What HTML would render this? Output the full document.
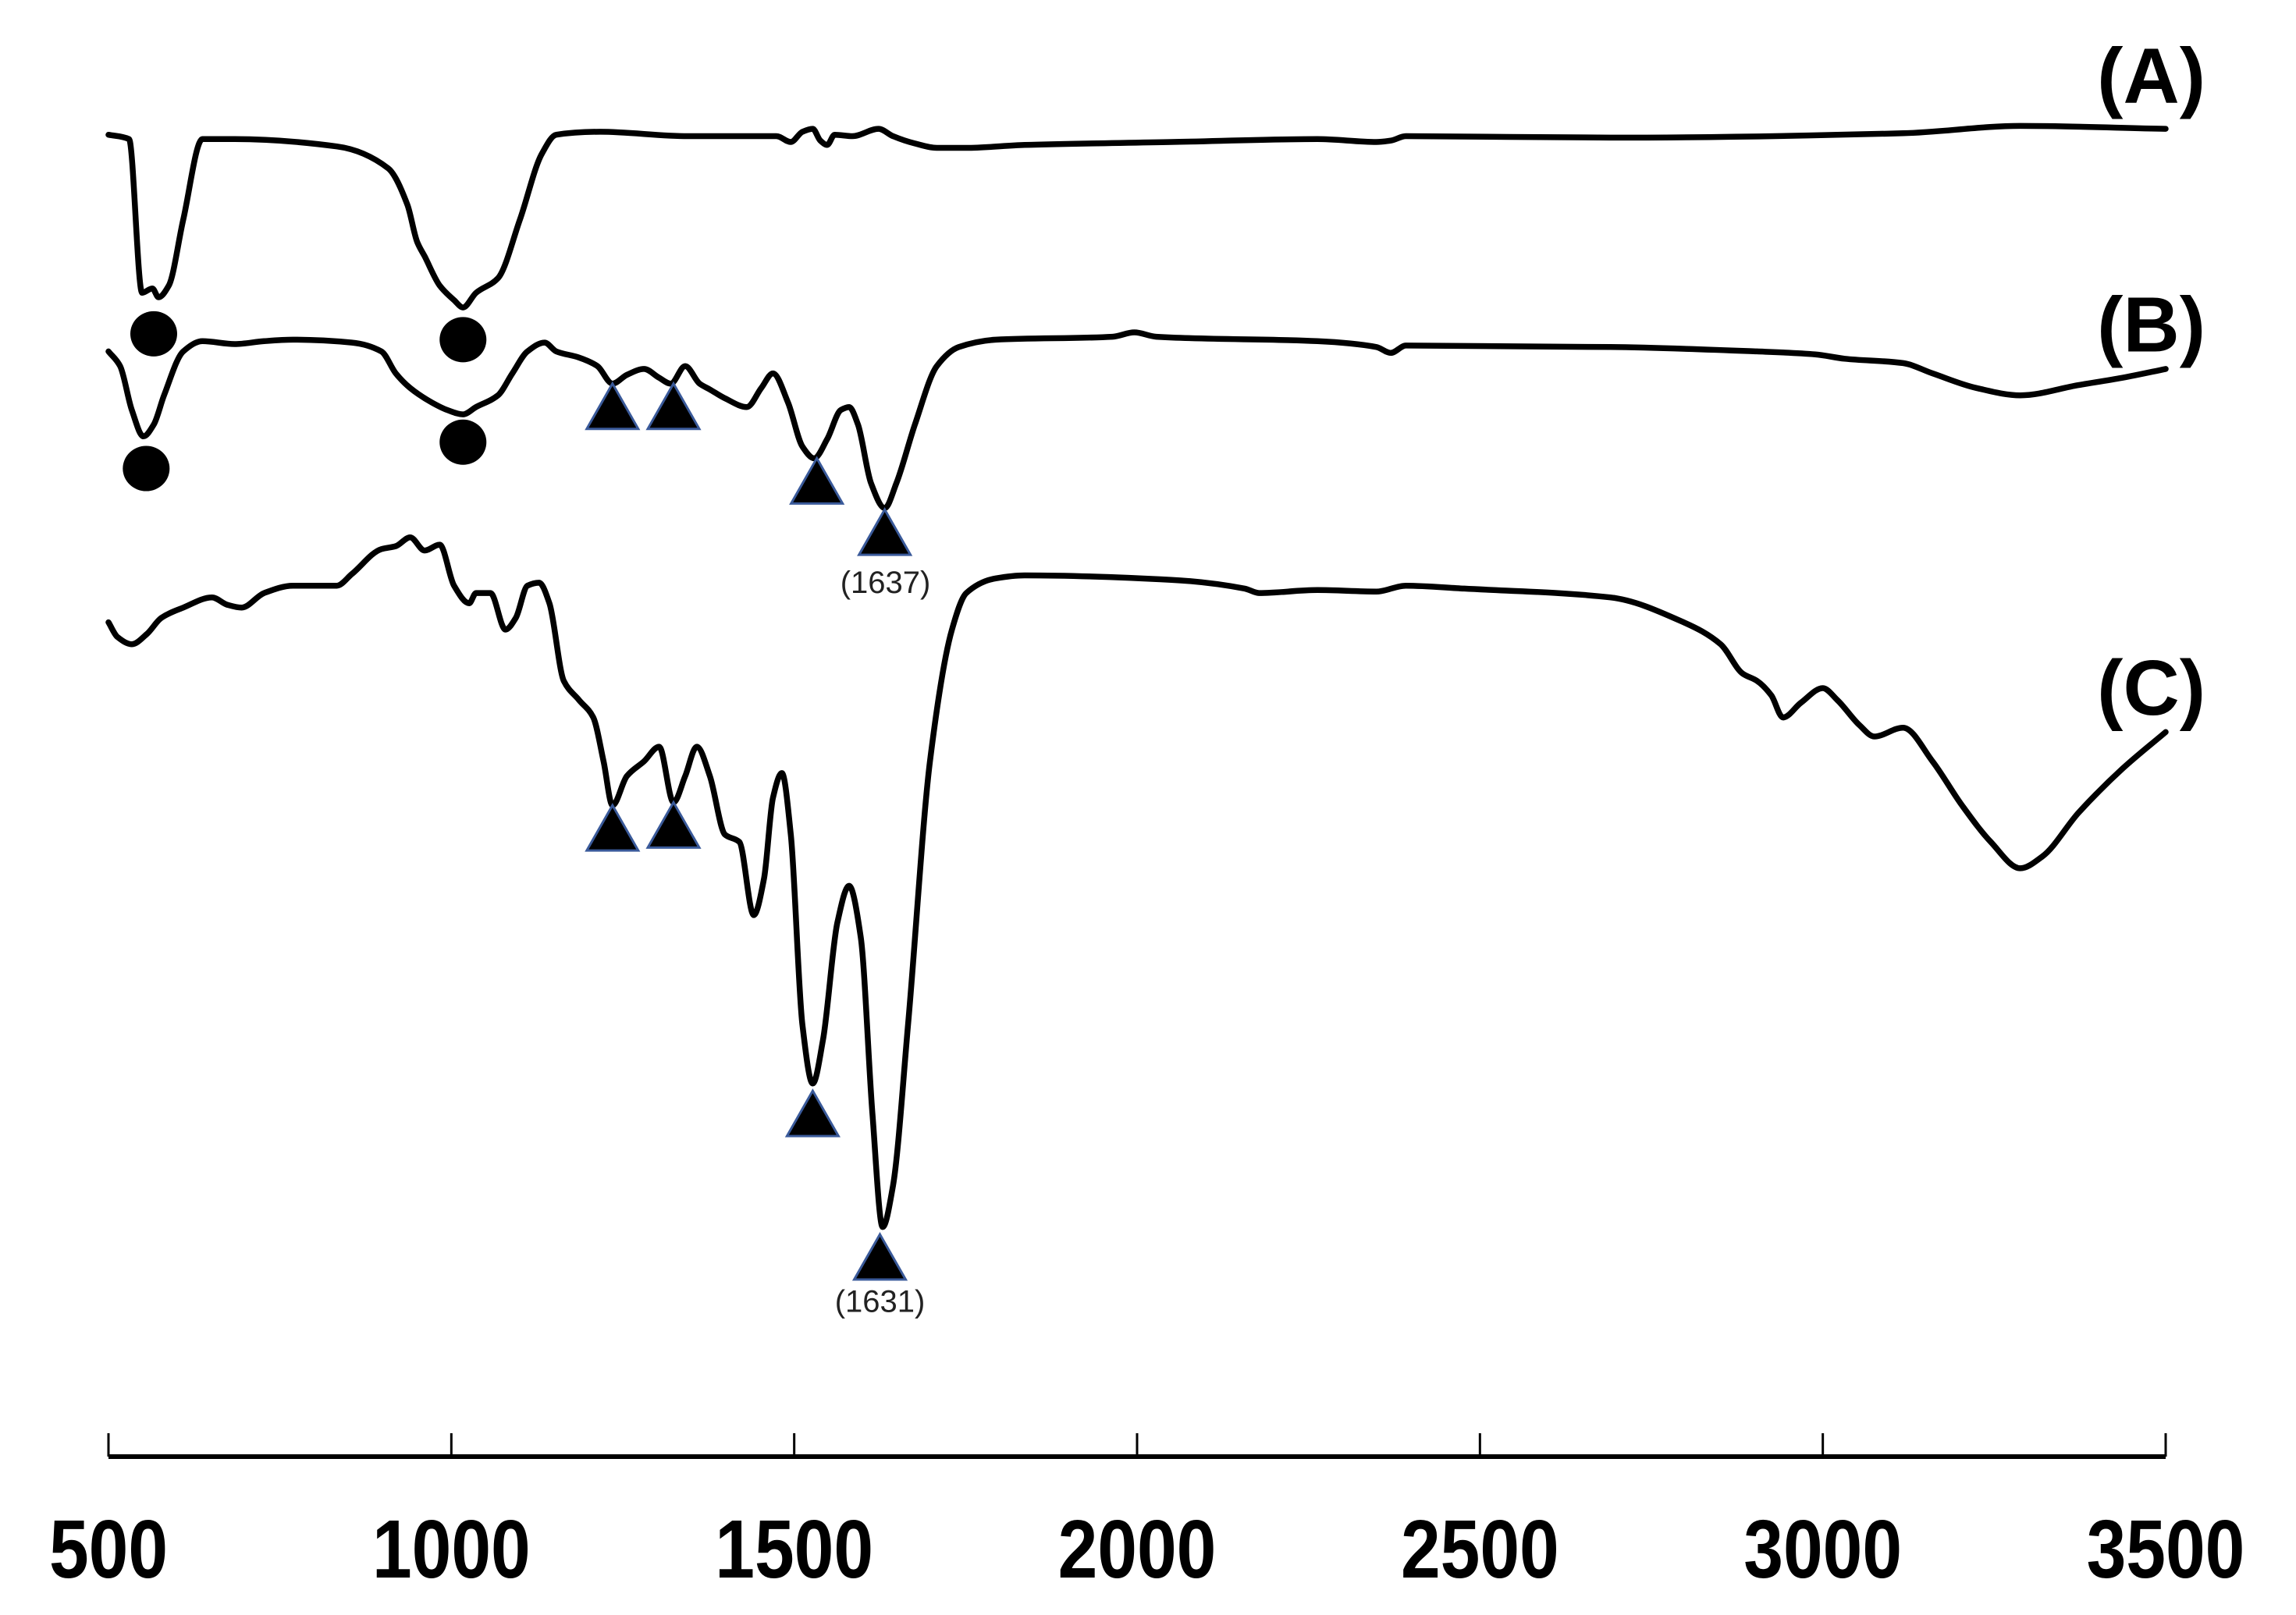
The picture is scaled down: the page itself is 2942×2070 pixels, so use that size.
<!DOCTYPE html>
<html><head><meta charset="utf-8"><style>
html,body{margin:0;padding:0;background:#fff;}
svg{display:block;}
text{font-family:"Liberation Sans",Arial,sans-serif;}
</style></head><body>
<svg id="chart" width="2942" height="2070" viewBox="0 0 2942 2070" xmlns="http://www.w3.org/2000/svg">
<g id="series"></g><g id="markers"></g><g id="axis"></g><g id="labels"></g>
</svg>
<script>
// Wavenumber (cm-1) and vertical offset (arbitrary, larger = lower on plot)
const wnA = [500,530,549,564,573,588,609,637,684,833,908,936,950,961,983,1004,1017,1036,1068,1100,1132,1153,1217,1345,1474,1495,1512,1527,1538,1548,1559,1585,1623,1644,1676,1708,1751,1836,2050,2263,2349,2370,2392,2690,3117,3288,3500];
const valA = [92,95,200,197,203,195,150,95,95,100,115,140,165,175,195,205,210,200,190,150,105,92,90,93,93,97,90,88,96,99,92,93,88,93,98,101,101,99,97,95,97,96,93,94,91,86,88];
const wnB = [500,517,534,551,566,581,609,637,684,727,769,855,898,919,940,972,994,1017,1036,1068,1089,1111,1136,1153,1185,1213,1235,1256,1281,1303,1320,1341,1362,1377,1399,1431,1452,1469,1491,1512,1529,1548,1568,1580,1593,1612,1632,1649,1676,1708,1740,1794,1964,1996,2028,2263,2349,2370,2392,2690,2904,2989,3032,3117,3160,3224,3288,3373,3437,3500];
const valB = [240,250,280,298,290,270,240,233,235,233,232,234,240,255,265,275,280,283,278,270,255,240,234,240,244,250,262,256,252,258,262,250,262,266,272,278,265,255,275,305,313,300,280,278,290,330,347,330,290,250,237,232,230,227,230,233,237,241,236,237,240,242,245,248,255,265,270,263,258,252];
const wnC = [500,513,534,556,577,609,651,673,694,727,769,833,855,898,919,940,961,983,1004,1026,1036,1057,1079,1094,1111,1128,1143,1164,1186,1207,1222,1235,1256,1281,1303,1324,1341,1358,1377,1399,1420,1441,1456,1469,1482,1495,1512,1527,1542,1563,1580,1597,1614,1629,1644,1666,1698,1730,1751,1794,1836,2050,2157,2178,2263,2349,2392,2477,2690,2797,2851,2883,2904,2925,2942,2968,3000,3021,3053,3075,3117,3160,3203,3245,3288,3320,3373,3437,3500];
const valC = [425,435,440,433,422,415,408,413,415,405,400,400,392,375,373,367,376,372,400,412,405,405,430,422,400,398,412,465,478,490,520,550,530,520,510,548,530,510,530,570,575,625,600,545,528,570,700,740,710,630,605,640,760,838,810,700,520,430,405,395,393,396,402,405,403,404,400,402,408,425,440,460,465,475,490,480,470,478,495,503,497,520,550,575,593,585,555,525,500];
const circleWn = [566,1017,555,1017];
const circleVal = [228,232,320,302];
const triWn = [1235,1324,1533,1632,1235,1324,1527,1625];
const triTop = [262,262,313,348,550,548,745,843];
const peakLabels = ["(1637)","(1631)"];
const peakLabelWn = [1633,1625];
const peakLabelVal = [405,896];
const ticks = [500,1000,1500,2000,2500,3000,3500];
const panelNames = ["(A)","(B)","(C)"];
const panelVal = [70,240,488];

const S = 2070/1103;
const X0 = 139, X1 = 2775;
function xs(wn){ return X0 + (wn-500)/3000*(X1-X0); }
function ys(v){ return v*S; }
const NS = "http://www.w3.org/2000/svg";
function mk(tag, attrs, parent){ const e=document.createElementNS(NS,tag); for(const k in attrs) e.setAttribute(k,attrs[k]); parent.appendChild(e); return e; }

// monotone cubic in x (no overshoot)
function pathFor(wn, val){
  const x = wn.map(xs), y = val.map(ys), n = x.length;
  const d = [], m = new Array(n);
  for(let i=0;i<n-1;i++) d.push((y[i+1]-y[i])/(x[i+1]-x[i]));
  m[0]=d[0]; m[n-1]=d[n-2];
  for(let i=1;i<n-1;i++){
    if(d[i-1]*d[i]<=0) m[i]=0;
    else { const h0=x[i]-x[i-1], h1=x[i+1]-x[i];
      const w1=2*h1+h0, w2=h1+2*h0;
      m[i]=(w1+w2)/(w1/d[i-1]+w2/d[i]); }
  }
  let p = "M"+x[0].toFixed(1)+","+y[0].toFixed(1);
  for(let i=0;i<n-1;i++){
    const h=(x[i+1]-x[i])/3;
    p += " C"+(x[i]+h).toFixed(1)+","+(y[i]+m[i]*h).toFixed(1)+" "+(x[i+1]-h).toFixed(1)+","+(y[i+1]-m[i+1]*h).toFixed(1)+" "+x[i+1].toFixed(1)+","+y[i+1].toFixed(1);
  }
  return p;
}
const gS = document.getElementById('series');
const series = [[wnA,valA,'spectrum-a'],[wnB,valB,'spectrum-b'],[wnC,valC,'spectrum-c']];
series.forEach(s=>{
  const el = mk('path',{d:pathFor(s[0],s[1]),fill:'none',stroke:'#000','stroke-width':7.5,'stroke-linejoin':'round','stroke-linecap':'round'},gS);
  
  
});

const gM = document.getElementById('markers');
circleWn.forEach((w,i)=>{
  const el = mk('ellipse',{cx:xs(w),cy:ys(circleVal[i]),rx:30,ry:29,fill:'#000'},gM);
  
  
});
triWn.forEach((w,i)=>{
  const cx = xs(w), top = ys(triTop[i]), h = 58, hw = 33;
  const el = mk('polygon',{points:`${cx},${top} ${cx+hw},${top+h} ${cx-hw},${top+h}`,fill:'#000',stroke:'#3a5a9a','stroke-width':3},gM);
  
  
});
peakLabels.forEach((t,i)=>{
  const el = mk('text',{x:xs(peakLabelWn[i]),y:ys(peakLabelVal[i]),'text-anchor':'middle','font-size':40,fill:'#222'},gM);
  el.textContent = t;
  
  
});

const gA = document.getElementById('axis');
const axisY = 1867;
const ax = mk('line',{x1:X0,y1:axisY,x2:X1,y2:axisY,stroke:'#000','stroke-width':6},gA);


ticks.forEach(t=>{
  const tl = mk('line',{x1:xs(t),y1:axisY-30,x2:xs(t),y2:axisY,stroke:'#000','stroke-width':3},gA);
  
  
  const tx = mk('text',{x:xs(t),y:2022,'text-anchor':'middle','font-size':106,'font-weight':'bold',fill:'#000',transform:`translate(${xs(t)},0) scale(0.86,1) translate(${-xs(t)},0)`},gA);
  tx.textContent = t;
  
  
});

const gL = document.getElementById('labels');
panelNames.forEach((n,i)=>{
  const el = mk('text',{x:2826,y:ys(panelVal[i]),'text-anchor':'end','font-size':100,'font-weight':'bold',fill:'#000'},gL);
  el.textContent = n;
  
  
});
</script>
</body></html>
